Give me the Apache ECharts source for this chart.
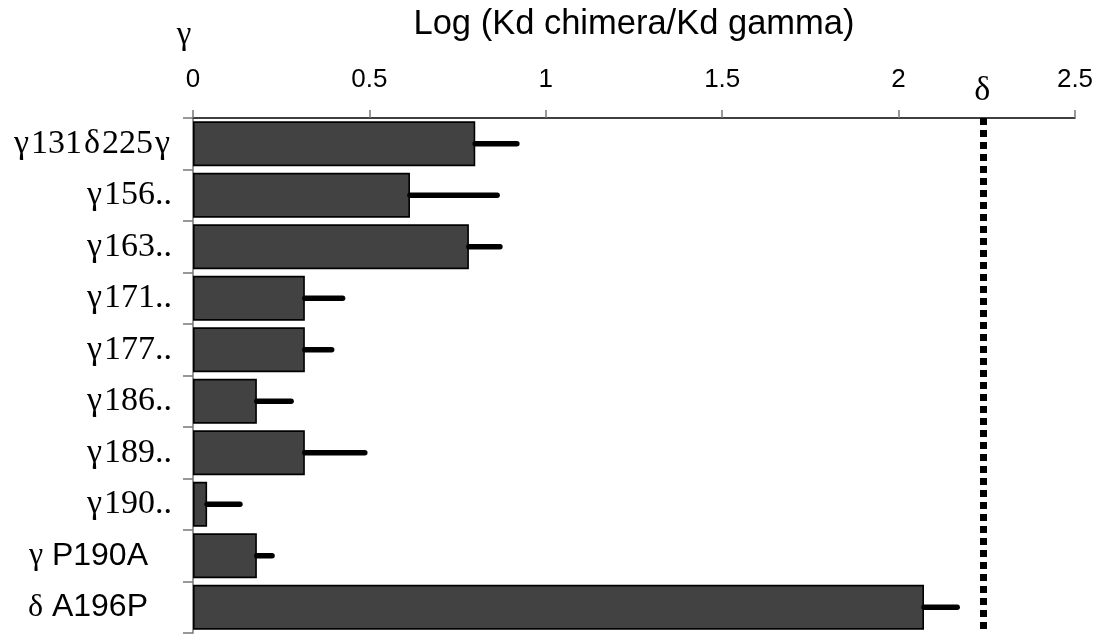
<!DOCTYPE html>
<html>
<head>
<meta charset="utf-8">
<script src="https://cdn.jsdelivr.net/npm/echarts@6/dist/echarts.min.js"></script>
<style>
html, body { margin: 0; padding: 0; background: #fff; }
#chart { width: 1099px; height: 637px; }
</style>
</head>
<body>
<div id="chart"></div>
<script>
// Chimera constructs, top to bottom
const categories = ['γ131δ225γ', 'γ156..', 'γ163..', 'γ171..', 'γ177..', 'γ186..', 'γ189..', 'γ190..', 'γ P190A', 'δ A196P'];
// Log (Kd chimera / Kd gamma)
const logRatio = [0.80, 0.615, 0.782, 0.317, 0.317, 0.181, 0.317, 0.04, 0.181, 2.072];
// Upper error (same units)
const errUpper = [0.118, 0.247, 0.088, 0.107, 0.076, 0.097, 0.170, 0.093, 0.043, 0.094];
// Reference level for delta
const deltaLevel = 2.237;
const xTicks = { min: 0, max: 2.5, interval: 0.5 };

const chart = echarts.init(document.getElementById('chart'), null, { renderer: 'canvas' });

const serif = '"Liberation Serif", "DejaVu Serif", serif';
const sans = '"Liberation Sans", Arial, sans-serif';
const greek = /[γδ]/;

const errData = logRatio.map((v, i) => [v, i, errUpper[i]]);

// Category label: Greek letters set apart, mutation names in a sans face
function formatCategory(label) {
  const sp = label.indexOf(' ');
  if (sp > 0) {
    return '{gs|' + label.slice(0, sp) + '}{s|' + label.slice(sp) + '}';
  }
  let out = '';
  for (const ch of label) {
    out += greek.test(ch) ? '{gk|' + ch + '}' : '{t|' + ch + '}';
  }
  return out;
}

chart.setOption({
  animation: false,
  backgroundColor: '#ffffff',
  grid: { left: 193, right: 24, top: 118, bottom: 4, containLabel: false },
  xAxis: {
    type: 'value',
    position: 'top',
    min: xTicks.min, max: xTicks.max, interval: xTicks.interval,
    name: 'Log (Kd chimera/Kd gamma)',
    nameLocation: 'middle',
    nameGap: 76,
    nameTextStyle: { fontFamily: sans, fontSize: 34.5, color: '#000' },
    axisLine: { show: true, lineStyle: { color: '#000', width: 1.5 } },
    axisTick: { show: true, length: 8, lineStyle: { color: '#777', width: 1.5 } },
    axisLabel: { fontFamily: sans, fontSize: 26, color: '#000', margin: 25 },
    splitLine: { show: false }
  },
  yAxis: {
    type: 'category',
    data: categories,
    inverse: true,
    axisLine: { show: true, lineStyle: { color: '#777', width: 1.5 } },
    axisTick: { show: true, length: 10, lineStyle: { color: '#777', width: 1.5 } },
    axisLabel: {
      margin: 21,
      formatter: formatCategory,
      rich: {
        t: { fontFamily: serif, fontSize: 34, color: '#000' },
        gk: { fontFamily: serif, fontSize: 34, color: '#000', padding: [0, 2, 0, 2] },
        gs: { fontFamily: serif, fontSize: 32, color: '#000' },
        s: { fontFamily: sans, fontSize: 32, color: '#000', padding: [0, 24, 0, 0] }
      }
    }
  },
  series: [
    {
      type: 'bar',
      data: logRatio,
      barCategoryGap: '13%',
      itemStyle: { color: '#424242', borderColor: '#000', borderWidth: 1.6 },
      markLine: {
        silent: true,
        symbol: 'none',
        data: [{ xAxis: deltaLevel }],
        lineStyle: { color: '#000', width: 7, type: [7, 5], cap: 'butt' },
        label: { show: false }
      }
    },
    {
      type: 'custom',
      data: errData,
      encode: { x: 0, y: 1 },
      z: 5,
      renderItem: (params, api) => {
        const v = api.value(0);
        const idx = api.value(1);
        const e = api.value(2);
        const p0 = api.coord([v, idx]);
        const p1 = api.coord([v + e, idx]);
        return {
          type: 'line',
          shape: { x1: p0[0], y1: p0[1], x2: p1[0], y2: p1[1] },
          style: { stroke: '#000', lineWidth: 5.5, lineCap: 'round' }
        };
      }
    }
  ]
});

// Greek markers above the axis: gamma at zero, delta over the reference line
const zeroX = chart.convertToPixel({ xAxisIndex: 0 }, 0);
const deltaX = chart.convertToPixel({ xAxisIndex: 0 }, deltaLevel);
chart.setOption({
  graphic: [
    {
      type: 'text',
      x: zeroX - 9,
      y: 35,
      style: { text: 'γ', font: '33px ' + serif, fill: '#000', align: 'center', verticalAlign: 'middle' }
    },
    {
      type: 'text',
      x: deltaX,
      y: 91,
      style: { text: 'δ', font: '34px ' + serif, fill: '#000', align: 'center', verticalAlign: 'middle' }
    }
  ]
});
</script>
</body>
</html>
